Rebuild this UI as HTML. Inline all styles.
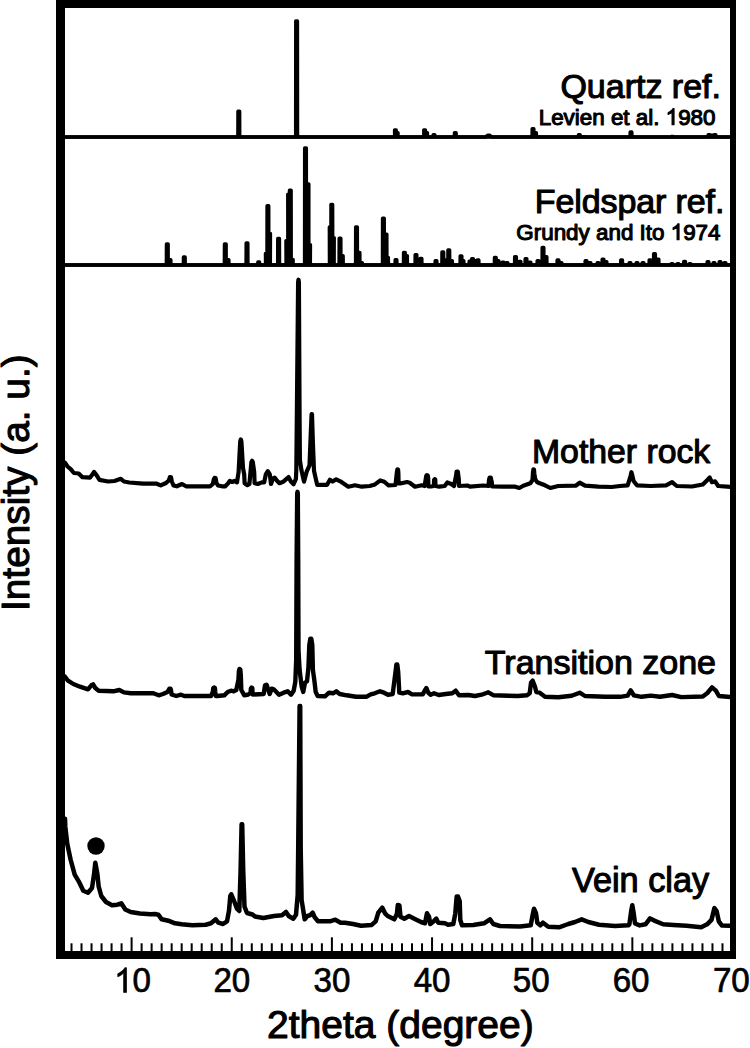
<!DOCTYPE html>
<html><head><meta charset="utf-8"><style>
html,body{margin:0;padding:0;background:#fff;}
svg{display:block;}
.one{fill-opacity:0;stroke-opacity:0;}
text{font-family:"Liberation Sans",sans-serif;fill:#000;stroke:#000;stroke-width:1.1px;stroke-linejoin:round;}
</style></head><body>
<svg width="750" height="1048" viewBox="0 0 750 1048">
<rect width="750" height="1048" fill="#fff"/>
<g fill="none" stroke="#000" stroke-linejoin="round" stroke-linecap="round">
<polyline stroke-width="3.5" points="65.5,137.0 237.9,137.0 238.0,111.2 239.6,111.2 239.7,137.0 295.7,137.0 295.8,21.1 297.4,21.1 297.5,137.0 394.7,137.0 394.6,130.1 396.2,130.1 396.1,137.0 396.5,137.0 396.4,132.8 398.0,132.8 397.9,137.0 423.9,137.0 423.8,130.1 425.4,130.1 425.3,137.0 425.9,137.0 425.8,132.8 427.4,132.8 427.3,137.0 433.1,137.0 433.2,134.8 434.8,134.8 434.9,137.0 454.4,137.0 454.5,132.8 456.1,132.8 456.2,137.0 485.5,137.0 487.9,135.2 489.5,135.2 491.9,137.0 532.1,137.0 532.2,128.8 533.8,128.8 533.9,137.0 534.6,137.0 534.7,132.8 536.3,132.8 536.4,137.0 578.4,137.0 578.5,134.8 580.1,134.8 580.2,137.0 583.1,137.0 583.2,136.8 584.8,136.8 584.9,137.0 630.1,137.0 630.2,132.1 631.8,132.1 631.9,137.0 671.3,137.0 671.4,136.6 673.0,136.6 673.1,137.0 708.1,137.0 708.2,134.8 709.8,134.8 709.9,137.0 711.1,137.0 711.2,135.2 712.8,135.2 712.9,137.0 714.1,137.0 714.2,134.8 715.8,134.8 715.9,137.0 729.5,137.0"/>
<polyline stroke-width="3.5" points="65.5,265.0 166.4,265.0 166.5,244.1 168.1,244.1 168.2,265.0 169.1,265.0 169.2,259.8 170.8,259.8 170.9,265.0 183.4,265.0 183.5,257.1 185.1,257.1 185.2,265.0 224.4,265.0 224.5,244.1 226.1,244.1 226.2,265.0 227.1,265.0 227.2,259.8 228.8,259.8 228.9,265.0 246.1,265.0 246.2,243.1 247.8,243.1 247.9,265.0 257.8,265.0 257.9,262.1 259.5,262.1 259.6,265.0 265.6,265.0 265.5,253.4 267.1,253.4 267.0,265.0 267.0,265.0 267.1,205.7 268.7,205.7 268.8,265.0 268.9,265.0 268.8,233.6 270.4,233.6 270.3,265.0 277.7,265.0 277.8,238.6 279.4,238.6 279.5,265.0 286.1,265.0 286.0,240.8 287.6,240.8 287.5,265.0 287.9,265.0 287.8,194.2 289.4,194.2 289.3,265.0 289.4,265.0 289.5,190.2 291.1,190.2 291.2,265.0 291.6,265.0 291.5,259.6 293.1,259.6 293.0,265.0 304.6,265.0 304.7,147.9 306.3,147.9 306.4,265.0 307.2,265.0 307.2,183.9 308.8,183.9 308.8,265.0 308.9,265.0 308.8,244.8 310.4,244.8 310.3,265.0 329.5,265.0 329.4,226.9 331.0,226.9 330.9,265.0 330.9,265.0 331.0,204.6 332.6,204.6 332.7,265.0 332.7,265.0 332.6,237.8 334.2,237.8 334.1,265.0 339.1,265.0 339.2,238.2 340.8,238.2 340.9,265.0 341.4,265.0 341.5,255.8 343.1,255.8 343.2,265.0 355.6,265.0 355.7,226.9 357.3,226.9 357.4,265.0 358.1,265.0 358.2,252.6 359.8,252.6 359.9,265.0 360.6,265.0 360.7,262.8 362.3,262.8 362.4,265.0 382.5,265.0 382.6,218.2 384.2,218.2 384.3,265.0 385.1,265.0 385.2,234.2 386.8,234.2 386.9,265.0 386.6,265.0 386.7,257.4 388.3,257.4 388.4,265.0 395.1,265.0 395.2,259.8 396.8,259.8 396.9,265.0 403.5,265.0 403.6,252.6 405.2,252.6 405.3,265.0 405.6,265.0 405.7,255.8 407.3,255.8 407.4,265.0 415.1,265.0 415.2,254.7 416.8,254.7 416.9,265.0 420.1,265.0 420.2,258.6 421.8,258.6 421.9,265.0 435.1,265.0 435.2,260.8 436.8,260.8 436.9,265.0 441.9,265.0 442.0,252.1 443.6,252.1 443.7,265.0 445.1,265.0 445.2,260.1 446.8,260.1 446.9,265.0 447.9,265.0 448.0,250.1 449.6,250.1 449.7,265.0 450.6,265.0 450.7,260.8 452.3,260.8 452.4,265.0 460.1,265.0 460.2,256.1 461.8,256.1 461.9,265.0 462.1,265.0 462.2,260.8 463.8,260.8 463.9,265.0 469.1,265.0 469.2,261.2 470.8,261.2 470.9,265.0 471.6,265.0 471.7,258.8 473.3,258.8 473.4,265.0 475.1,265.0 475.2,260.8 476.8,260.8 476.9,265.0 477.1,265.0 477.2,260.1 478.8,260.1 478.9,265.0 494.4,265.0 494.5,257.4 496.1,257.4 496.2,265.0 497.1,265.0 497.2,260.8 498.8,260.8 498.9,265.0 502.1,265.0 502.2,262.2 503.8,262.2 503.9,265.0 506.1,265.0 506.2,262.8 507.8,262.8 507.9,265.0 514.6,265.0 514.7,256.8 516.3,256.8 516.4,265.0 519.1,265.0 519.2,261.4 520.8,261.4 520.9,265.0 525.1,265.0 525.2,258.8 526.8,258.8 526.9,265.0 529.1,265.0 529.2,262.2 530.8,262.2 530.9,265.0 537.1,265.0 537.2,260.8 538.8,260.8 538.9,265.0 542.1,265.0 542.2,247.4 543.8,247.4 543.9,265.0 545.1,265.0 545.2,256.8 546.8,256.8 546.9,265.0 557.1,265.0 557.2,260.1 558.8,260.1 558.9,265.0 560.1,265.0 560.2,262.8 561.8,262.8 561.9,265.0 585.1,265.0 585.2,260.8 586.8,260.8 586.9,265.0 589.1,265.0 589.2,262.8 590.8,262.8 590.9,265.0 597.1,265.0 597.2,262.8 598.8,262.8 598.9,265.0 602.1,265.0 602.2,259.2 603.8,259.2 603.9,265.0 605.1,265.0 605.2,261.8 606.8,261.8 606.9,265.0 620.7,265.0 620.8,260.1 622.4,260.1 622.5,265.0 629.1,265.0 629.2,262.8 630.8,262.8 630.9,265.0 636.1,265.0 636.2,262.8 637.8,262.8 637.9,265.0 642.1,265.0 642.2,262.8 643.8,262.8 643.9,265.0 649.1,265.0 649.2,260.1 650.8,260.1 650.9,265.0 653.6,265.0 653.7,253.8 655.3,253.8 655.4,265.0 657.1,265.0 657.2,259.2 658.8,259.2 658.9,265.0 671.1,265.0 671.2,263.8 672.8,263.8 672.9,265.0 677.1,265.0 677.2,263.8 678.8,263.8 678.9,265.0 683.7,265.0 683.8,261.6 685.4,261.6 685.5,265.0 689.1,265.0 689.2,263.8 690.8,263.8 690.9,265.0 707.1,265.0 707.2,261.8 708.8,261.8 708.9,265.0 713.1,265.0 713.2,262.8 714.8,262.8 714.9,265.0 719.1,265.0 719.2,261.8 720.8,261.8 720.9,265.0 724.1,265.0 724.2,262.8 725.8,262.8 725.9,265.0 729.5,265.0"/>
<polyline stroke-width="4.2" points="65.0,462.8 67.5,466.5 70.7,469.2 73.9,473.0 78.7,473.5 82.4,477.2 89.9,477.7 92.0,475.0 94.1,471.9 96.8,475.6 99.5,479.9 108.0,481.5 114.4,481.0 120.8,478.8 124.0,481.5 129.3,482.5 140.0,483.3 143.3,483.7 156.7,483.7 160.7,485.4 166.0,483.0 168.8,480.5 169.9,477.2 171.0,477.2 171.8,481.5 173.5,485.5 176.7,486.3 182.0,484.0 186.0,486.3 210.0,486.3 212.8,484.0 213.8,479.5 214.6,477.8 215.6,478.0 216.5,483.0 218.0,485.5 222.0,486.3 225.0,486.4 228.2,483.2 229.8,480.8 232.2,482.0 234.6,480.8 237.0,482.4 238.6,472.0 240.2,441.5 240.8,439.4 241.4,441.5 243.0,468.0 244.2,474.4 244.6,483.2 247.4,485.2 249.4,484.0 251.4,462.0 252.1,460.8 252.8,462.0 254.2,472.0 254.6,483.2 257.8,484.0 261.8,482.4 264.2,482.4 265.8,474.4 267.8,471.2 269.8,474.4 271.0,484.0 273.0,478.4 274.6,477.6 277.0,480.8 279.4,483.2 282.6,482.0 284.5,480.7 288.6,477.1 290.9,481.6 293.6,484.3 295.9,478.9 296.3,470.0 296.6,440.0 298.1,282.0 298.5,279.7 298.9,282.0 299.6,420.0 299.9,460.0 301.4,470.0 304.0,481.6 306.7,471.6 309.5,465.3 310.9,430.0 311.6,414.0 312.0,414.0 312.8,440.0 314.0,470.7 315.8,478.9 317.2,484.8 327.1,484.8 329.9,479.8 332.6,481.6 336.2,479.3 340.3,481.3 344.3,484.0 348.3,486.7 355.0,485.3 361.7,486.7 369.7,486.0 375.0,484.4 380.3,480.4 384.3,481.7 388.3,485.3 395.5,485.0 396.9,472.0 397.4,469.4 398.1,469.6 398.4,474.0 398.6,483.5 400.3,483.5 407.0,482.0 409.7,482.7 415.0,486.7 421.7,485.3 424.6,486.0 426.2,476.0 426.8,475.1 427.8,475.5 428.2,478.0 428.4,486.5 431.0,486.5 433.8,486.0 434.1,480.0 434.7,479.1 435.3,479.5 435.5,486.0 439.3,486.7 444.7,486.0 447.3,482.5 451.3,484.0 454.0,486.0 456.0,476.0 456.6,471.6 457.8,471.6 458.4,476.0 458.8,479.0 459.0,486.0 467.3,485.5 470.0,486.7 483.3,485.5 488.5,486.0 489.0,480.0 489.6,477.6 490.8,477.6 491.3,480.0 491.8,482.0 492.1,486.3 503.3,486.7 515.3,486.7 519.3,488.0 523.3,485.7 530.3,483.3 532.5,480.0 533.0,472.0 533.4,469.4 534.0,469.6 534.4,474.0 535.2,479.0 537.0,482.0 539.7,483.3 545.0,485.3 550.3,488.0 558.3,486.0 575.7,485.7 579.7,482.7 585.0,485.7 598.3,486.7 611.7,487.0 620.0,486.0 627.7,485.3 630.6,476.0 631.4,472.2 632.2,475.0 633.6,481.0 636.9,485.3 650.7,486.0 666.0,485.3 672.1,482.2 676.7,486.0 692.0,486.5 702.8,484.5 707.4,479.9 709.7,477.6 712.0,482.2 715.1,481.4 718.2,486.0 730.4,486.8"/>
<polyline stroke-width="4.4" points="65.0,676.7 68.0,680.7 73.3,684.0 80.0,686.7 88.0,689.3 91.3,685.3 93.1,684.4 95.3,688.0 98.7,690.7 113.3,691.3 119.3,690.0 124.0,692.4 130.7,693.3 153.3,693.3 158.7,695.3 163.0,694.0 167.5,692.0 168.6,690.0 169.3,688.8 170.6,688.8 171.1,691.0 171.6,694.5 176.3,696.0 181.0,694.7 184.3,696.0 211.0,696.0 212.8,692.0 213.3,688.0 214.0,687.5 214.9,688.0 215.3,692.0 215.8,696.0 217.7,696.0 224.3,695.3 227.7,692.0 231.0,690.7 233.7,691.3 236.3,690.0 238.4,680.0 238.9,671.0 239.5,668.9 240.3,669.5 240.8,675.0 241.3,690.0 244.3,695.3 248.3,694.5 250.5,693.0 250.9,688.5 251.6,687.5 252.3,688.0 252.6,694.5 263.7,694.0 265.0,685.3 266.6,684.7 268.3,690.0 269.7,694.0 271.7,688.7 273.7,689.3 275.7,691.3 279.0,694.7 283.7,692.7 287.7,691.3 291.0,694.7 293.7,690.7 295.3,682.0 296.2,660.0 296.6,560.0 297.2,493.5 297.5,491.8 297.8,493.5 298.2,560.0 298.5,650.0 299.6,670.0 301.7,686.7 303.2,692.0 305.0,682.7 307.0,681.3 308.4,668.0 309.3,645.0 310.3,638.7 311.3,638.7 312.3,645.0 312.9,670.0 314.3,680.0 315.7,692.0 317.7,696.0 325.0,696.3 329.0,692.7 333.0,693.3 336.3,691.3 339.7,694.0 346.7,695.3 356.0,696.7 366.7,696.7 370.7,694.4 374.7,693.3 380.0,691.3 384.0,692.7 388.0,694.7 392.7,694.0 395.5,672.0 396.4,664.4 397.3,664.4 398.2,672.0 399.3,692.7 402.7,693.3 408.0,692.0 412.0,694.4 422.7,694.4 424.7,690.7 426.4,688.0 428.3,692.7 430.7,694.7 434.0,693.3 438.7,695.0 445.7,694.0 452.3,693.3 455.7,690.7 459.0,695.3 468.3,695.0 475.0,696.0 481.7,694.7 488.3,692.3 493.7,695.3 508.3,695.7 517.7,696.0 527.0,695.3 529.7,693.3 531.0,682.7 532.7,680.7 535.0,686.7 536.3,692.0 539.7,692.7 545.0,696.7 558.3,697.3 571.7,695.7 579.7,692.7 585.0,696.0 605.0,696.7 620.0,696.8 627.7,695.6 630.7,690.4 633.8,695.3 641.5,696.8 650.7,695.6 659.9,696.8 672.1,695.0 681.3,697.1 702.8,696.5 707.4,693.0 712.0,687.3 715.9,690.7 718.9,696.0 730.0,697.0"/>
<polyline stroke-width="4.5" points="65.0,818.7 65.3,826.7 67.3,844.0 70.7,860.0 74.7,874.7 78.7,881.3 83.3,890.7 88.0,892.7 92.0,888.0 94.0,874.7 95.3,862.7 97.3,873.3 98.7,886.7 101.3,896.0 106.0,902.0 112.0,905.3 117.3,904.7 121.3,903.3 125.3,909.5 130.7,912.0 140.0,913.5 150.7,914.3 155.0,914.0 158.3,914.7 161.7,919.3 168.3,920.7 175.0,923.3 181.7,924.3 192.3,925.3 205.7,924.7 211.0,923.3 215.7,919.3 218.3,922.7 223.0,924.0 227.0,921.3 229.0,910.7 230.3,896.0 231.3,894.3 233.7,900.0 237.0,908.7 239.3,911.0 240.6,870.0 241.6,824.3 242.2,824.3 243.2,870.0 244.5,906.7 247.0,913.0 252.5,914.5 255.0,916.5 263.3,918.0 274.0,916.0 282.0,915.3 286.0,912.0 288.7,916.0 293.3,918.7 296.0,914.7 297.7,895.0 298.2,850.0 299.6,706.0 300.2,706.0 300.7,850.0 301.6,900.0 303.3,910.7 304.7,919.3 307.3,916.0 310.0,915.3 312.7,912.7 314.7,917.3 318.0,921.3 330.0,921.3 335.3,919.7 340.7,922.7 345.0,922.7 353.0,924.0 361.0,925.7 371.7,924.9 375.7,921.3 378.3,912.7 382.3,907.7 385.0,913.3 387.7,916.0 394.3,919.3 396.9,914.0 397.8,905.0 399.4,905.5 400.5,916.7 404.3,918.7 409.0,916.0 414.3,918.7 421.0,922.0 425.0,923.3 427.0,913.3 429.0,916.7 430.3,924.0 434.3,920.7 436.3,918.7 438.3,922.7 445.0,923.3 448.0,924.7 453.3,924.0 455.3,913.3 456.7,896.5 458.0,896.5 459.7,901.3 460.3,920.0 462.0,925.3 473.3,925.0 484.0,923.3 490.0,919.3 493.3,924.0 500.0,926.0 520.0,926.4 530.7,925.3 532.7,914.7 534.0,908.7 536.0,913.3 537.3,922.7 540.3,925.3 543.0,922.7 548.3,926.7 559.0,927.3 568.3,924.0 575.0,922.0 581.7,919.3 588.3,922.0 599.0,924.7 615.0,926.0 628.3,925.3 629.4,924.3 631.2,911.0 632.3,905.2 633.8,914.0 635.0,923.5 639.7,925.4 645.5,924.3 650.0,918.4 654.3,920.6 663.1,924.3 673.4,925.0 686.6,925.7 701.2,927.2 707.1,924.3 711.5,919.9 714.4,908.1 716.6,911.0 718.8,921.3 721.8,925.4 730.0,925.7"/>
</g>
<circle cx="96" cy="846" r="8.7" fill="#000"/>
<g fill="#000">
<rect x="65" y="135.3" width="665" height="3.5"/>
<rect x="65" y="263.2" width="665" height="3.6"/>
<rect x="56" y="0" width="9" height="959"/>
<rect x="56" y="0" width="680" height="8"/>
<rect x="730" y="0" width="6" height="959"/>
<rect x="56" y="951" width="680" height="8"/>
<rect x="70.51" y="943.3" width="2" height="8.7"/><rect x="80.52" y="943.3" width="2" height="8.7"/><rect x="90.54" y="943.3" width="2" height="8.7"/><rect x="100.55" y="943.3" width="2" height="8.7"/><rect x="110.57" y="943.3" width="2" height="8.7"/><rect x="120.58" y="943.3" width="2" height="8.7"/><rect x="130.60" y="937.3" width="2" height="14.7"/><rect x="140.62" y="943.3" width="2" height="8.7"/><rect x="150.63" y="943.3" width="2" height="8.7"/><rect x="160.64" y="943.3" width="2" height="8.7"/><rect x="170.66" y="943.3" width="2" height="8.7"/><rect x="180.68" y="943.3" width="2" height="8.7"/><rect x="190.69" y="943.3" width="2" height="8.7"/><rect x="200.70" y="943.3" width="2" height="8.7"/><rect x="210.72" y="943.3" width="2" height="8.7"/><rect x="220.74" y="943.3" width="2" height="8.7"/><rect x="230.75" y="937.3" width="2" height="14.7"/><rect x="240.76" y="943.3" width="2" height="8.7"/><rect x="250.78" y="943.3" width="2" height="8.7"/><rect x="260.79" y="943.3" width="2" height="8.7"/><rect x="270.81" y="943.3" width="2" height="8.7"/><rect x="280.83" y="943.3" width="2" height="8.7"/><rect x="290.84" y="943.3" width="2" height="8.7"/><rect x="300.86" y="943.3" width="2" height="8.7"/><rect x="310.87" y="943.3" width="2" height="8.7"/><rect x="320.88" y="943.3" width="2" height="8.7"/><rect x="330.90" y="937.3" width="2" height="14.7"/><rect x="340.91" y="943.3" width="2" height="8.7"/><rect x="350.93" y="943.3" width="2" height="8.7"/><rect x="360.95" y="943.3" width="2" height="8.7"/><rect x="370.96" y="943.3" width="2" height="8.7"/><rect x="380.98" y="943.3" width="2" height="8.7"/><rect x="390.99" y="943.3" width="2" height="8.7"/><rect x="401.00" y="943.3" width="2" height="8.7"/><rect x="411.02" y="943.3" width="2" height="8.7"/><rect x="421.03" y="943.3" width="2" height="8.7"/><rect x="431.05" y="937.3" width="2" height="14.7"/><rect x="441.07" y="943.3" width="2" height="8.7"/><rect x="451.08" y="943.3" width="2" height="8.7"/><rect x="461.10" y="943.3" width="2" height="8.7"/><rect x="471.11" y="943.3" width="2" height="8.7"/><rect x="481.12" y="943.3" width="2" height="8.7"/><rect x="491.14" y="943.3" width="2" height="8.7"/><rect x="501.15" y="943.3" width="2" height="8.7"/><rect x="511.17" y="943.3" width="2" height="8.7"/><rect x="521.19" y="943.3" width="2" height="8.7"/><rect x="531.20" y="937.3" width="2" height="14.7"/><rect x="541.22" y="943.3" width="2" height="8.7"/><rect x="551.23" y="943.3" width="2" height="8.7"/><rect x="561.25" y="943.3" width="2" height="8.7"/><rect x="571.26" y="943.3" width="2" height="8.7"/><rect x="581.27" y="943.3" width="2" height="8.7"/><rect x="591.29" y="943.3" width="2" height="8.7"/><rect x="601.31" y="943.3" width="2" height="8.7"/><rect x="611.32" y="943.3" width="2" height="8.7"/><rect x="621.34" y="943.3" width="2" height="8.7"/><rect x="631.35" y="937.3" width="2" height="14.7"/><rect x="641.37" y="943.3" width="2" height="8.7"/><rect x="651.38" y="943.3" width="2" height="8.7"/><rect x="661.40" y="943.3" width="2" height="8.7"/><rect x="671.41" y="943.3" width="2" height="8.7"/><rect x="681.43" y="943.3" width="2" height="8.7"/><rect x="691.44" y="943.3" width="2" height="8.7"/><rect x="701.46" y="943.3" width="2" height="8.7"/><rect x="711.47" y="943.3" width="2" height="8.7"/><rect x="721.49" y="943.3" width="2" height="8.7"/>
</g>
<text x="721" y="97.8" text-anchor="end" font-size="34">Quartz ref.</text>
<text x="715.5" y="124.7" text-anchor="end" font-size="22.4">Levien et al. <tspan class="one">1</tspan>980</text>
<text x="724.3" y="212.5" text-anchor="end" font-size="34" letter-spacing="-0.1">Feldspar ref.</text>
<text x="720.5" y="239.8" text-anchor="end" font-size="22.4">Grundy and Ito <tspan class="one">1</tspan>974</text>
<text x="710.2" y="462.5" text-anchor="end" font-size="33.75">Mother rock</text>
<text x="716" y="674" text-anchor="end" font-size="34">Transition zone</text>
<text x="709.2" y="891.9" text-anchor="end" font-size="34.3">Vein clay</text>
<text x="132.6" y="992.4" text-anchor="middle" font-size="34.5" style="stroke-width:0.7px" transform="translate(132.6,0) scale(0.96,1) translate(-132.6,0)"><tspan class="one">1</tspan>0</text><text x="231.8" y="992.4" text-anchor="middle" font-size="34.5" style="stroke-width:0.7px" transform="translate(231.8,0) scale(0.96,1) translate(-231.8,0)">20</text><text x="331.9" y="992.4" text-anchor="middle" font-size="34.5" style="stroke-width:0.7px" transform="translate(331.9,0) scale(0.96,1) translate(-331.9,0)">30</text><text x="432.1" y="992.4" text-anchor="middle" font-size="34.5" style="stroke-width:0.7px" transform="translate(432.1,0) scale(0.96,1) translate(-432.1,0)">40</text><text x="531.2" y="992.4" text-anchor="middle" font-size="34.5" style="stroke-width:0.7px" transform="translate(531.2,0) scale(0.96,1) translate(-531.2,0)">50</text><text x="631.1" y="992.4" text-anchor="middle" font-size="34.5" style="stroke-width:0.7px" transform="translate(631.1,0) scale(0.96,1) translate(-631.1,0)">60</text><text x="731.3" y="992.4" text-anchor="middle" font-size="34.5" style="stroke-width:0.7px" transform="translate(731.3,0) scale(0.96,1) translate(-731.3,0)">70</text>
<text x="267" y="1038.3" font-size="39">2theta (degree)</text>
<text transform="translate(28.9,611) rotate(-90)" font-size="38.8">Intensity (a. u.)</text>
<path d="M763,0 L583,0 L583,-1147 Q518,-1085 415,-1024 Q312,-963 221,-929 L221,-1103 Q385,-1180 496.5,-1280 Q608,-1380 657,-1466 L763,-1466 Z" transform="translate(665.69,124.70) scale(0.01094)" fill="#000" stroke="#000" stroke-width="100.6" stroke-linejoin="round"/><path d="M763,0 L583,0 L583,-1147 Q518,-1085 415,-1024 Q312,-963 221,-929 L221,-1103 Q385,-1180 496.5,-1280 Q608,-1380 657,-1466 L763,-1466 Z" transform="translate(670.69,239.80) scale(0.01094)" fill="#000" stroke="#000" stroke-width="100.6" stroke-linejoin="round"/><g transform="translate(132.6,0) scale(0.96,1) translate(-132.6,0)"><path d="M763,0 L583,0 L583,-1147 Q518,-1085 415,-1024 Q312,-963 221,-929 L221,-1103 Q385,-1180 496.5,-1280 Q608,-1380 657,-1466 L763,-1466 Z" transform="translate(113.42,992.40) scale(0.01685)" fill="#000" stroke="#000" stroke-width="41.6" stroke-linejoin="round"/></g>
</svg>
</body></html>
